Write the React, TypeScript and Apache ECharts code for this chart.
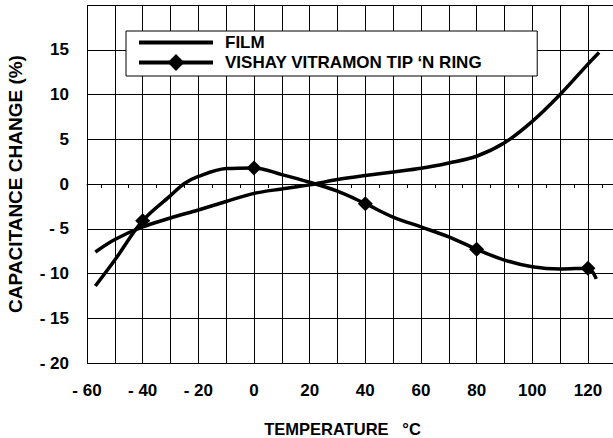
import React, { useEffect, useRef } from "react";
import * as echarts from "echarts";

const filmName = "FILM";
const vishayName = "VISHAY VITRAMON TIP \u2018N RING";

const filmT = [-57, -50, -40, -30, -20, -10, 0, 10, 20, 30, 40, 50, 60, 70, 80, 90, 100, 110, 120, 124];
const filmV = [-7.6, -6.2, -4.8, -3.8, -2.9, -1.95, -1.05, -0.55, -0.1, 0.5, 0.95, 1.35, 1.75, 2.35, 3.1, 4.6, 7.0, 10.0, 13.4, 14.7];

const vishayT = [-57, -50, -40, -30, -25, -20, -10, 0, 10, 20, 30, 40, 50, 60, 70, 80, 90, 100, 110, 120, 123];
const vishayV = [-11.4, -8.5, -4.1, -1.3, 0.05, 0.85, 1.72, 1.8, 1.05, 0.2, -0.8, -2.2, -3.7, -4.8, -5.9, -7.3, -8.5, -9.25, -9.5, -9.4, -10.6];
const markerT = [-40, 0, 40, 80, 120];

const xLabels = [-60, -40, -20, 0, 20, 40, 60, 80, 100, 120];
const yLabels = [-20, -15, -10, -5, 0, 5, 10, 15];

const FONT = "'Liberation Sans', Arial, Helvetica, sans-serif";

const fmt = (v: number) => (v < 0 ? "- " + Math.abs(v) : String(v));

export default function App() {
  const ref = useRef<HTMLDivElement>(null);
  useEffect(() => {
    if (!ref.current) return;
    const chart = echarts.init(ref.current, undefined, { renderer: "svg" });
    const filmData = filmT.map((t, i) => [t, filmV[i]]);
    const vishayData = vishayT.map((t, i) =>
      markerT.includes(t) ? { value: [t, vishayV[i]] } : { value: [t, vishayV[i]], symbol: "none" }
    );
    chart.setOption({
      animation: false,
      backgroundColor: "#fff",
      textStyle: { fontFamily: FONT },
      grid: { left: 87, right: 0, top: 5, bottom: 75, containLabel: false, outerBoundsMode: "none" },
      legend: {
        orient: "vertical",
        left: 126,
        top: 31,
        padding: [3, 55, 5, 11],
        itemGap: 3,
        itemWidth: 74,
        itemHeight: 21,
        backgroundColor: "#fff",
        borderColor: "#000",
        borderWidth: 1,
        borderRadius: 0,
        lineStyle: { width: 4, color: "#000" },
        textStyle: { fontFamily: FONT, fontWeight: "bold", fontSize: 17, color: "#000", padding: [0, 0, 0, 7] },
        data: [
          { name: filmName, itemStyle: { opacity: 0 } },
          { name: vishayName },
        ],
      },
      xAxis: {
        type: "value",
        min: -60,
        max: 129,
        interval: 10,
        name: "TEMPERATURE   \u00b0C",
        nameLocation: "middle",
        nameGap: 57,
        nameTextStyle: { fontFamily: FONT, fontWeight: "bold", fontSize: 16.5, color: "#000", padding: [0, 15, 0, 0] },
        axisLine: { show: true, lineStyle: { color: "#000", width: 1 } },
        axisTick: { show: true, length: 7, lineStyle: { color: "#000", width: 1 } },
        minorTick: { show: true, splitNumber: 2, length: 4, lineStyle: { color: "#000", width: 1 } },
        splitLine: { show: true, lineStyle: { color: "#000", width: 1 } },
        axisLabel: {
          margin: 19,
          fontFamily: FONT,
          fontWeight: "bold",
          fontSize: 17,
          color: "#000",
          showMaxLabel: false,
          formatter: (v: number) => (xLabels.includes(v) ? fmt(v) : ""),
        },
      },
      yAxis: {
        type: "value",
        min: -20,
        max: 20,
        interval: 5,
        name: "CAPACITANCE CHANGE (%)",
        nameLocation: "middle",
        nameGap: 62,
        nameTextStyle: { fontFamily: FONT, fontWeight: "bold", fontSize: 19, color: "#000" },
        axisLine: { show: true, lineStyle: { color: "#000", width: 1 } },
        axisTick: { show: true, length: 10, lineStyle: { color: "#000", width: 1 } },
        splitLine: { show: true, lineStyle: { color: "#000", width: 1 } },
        axisLabel: {
          margin: 18,
          fontFamily: FONT,
          fontWeight: "bold",
          fontSize: 17,
          color: "#000",
          formatter: (v: number) => (yLabels.includes(v) ? fmt(v) : ""),
        },
      },
      series: [
        {
          name: filmName,
          type: "line",
          data: filmData,
          smooth: 0.35,
          symbol: "none",
          lineStyle: { color: "#000", width: 3.5 },
          itemStyle: { color: "#000" },
          z: 3,
        },
        {
          name: vishayName,
          type: "line",
          data: vishayData,
          smooth: 0.35,
          symbol: "diamond",
          symbolSize: 15,
          showSymbol: true,
          lineStyle: { color: "#000", width: 3.5 },
          itemStyle: { color: "#000" },
          z: 4,
        },
      ],
    });
    return () => chart.dispose();
  }, []);
  return <div ref={ref} style={{ width: 613, height: 438, position: "absolute", left: 0, top: 0 }} />;
}
